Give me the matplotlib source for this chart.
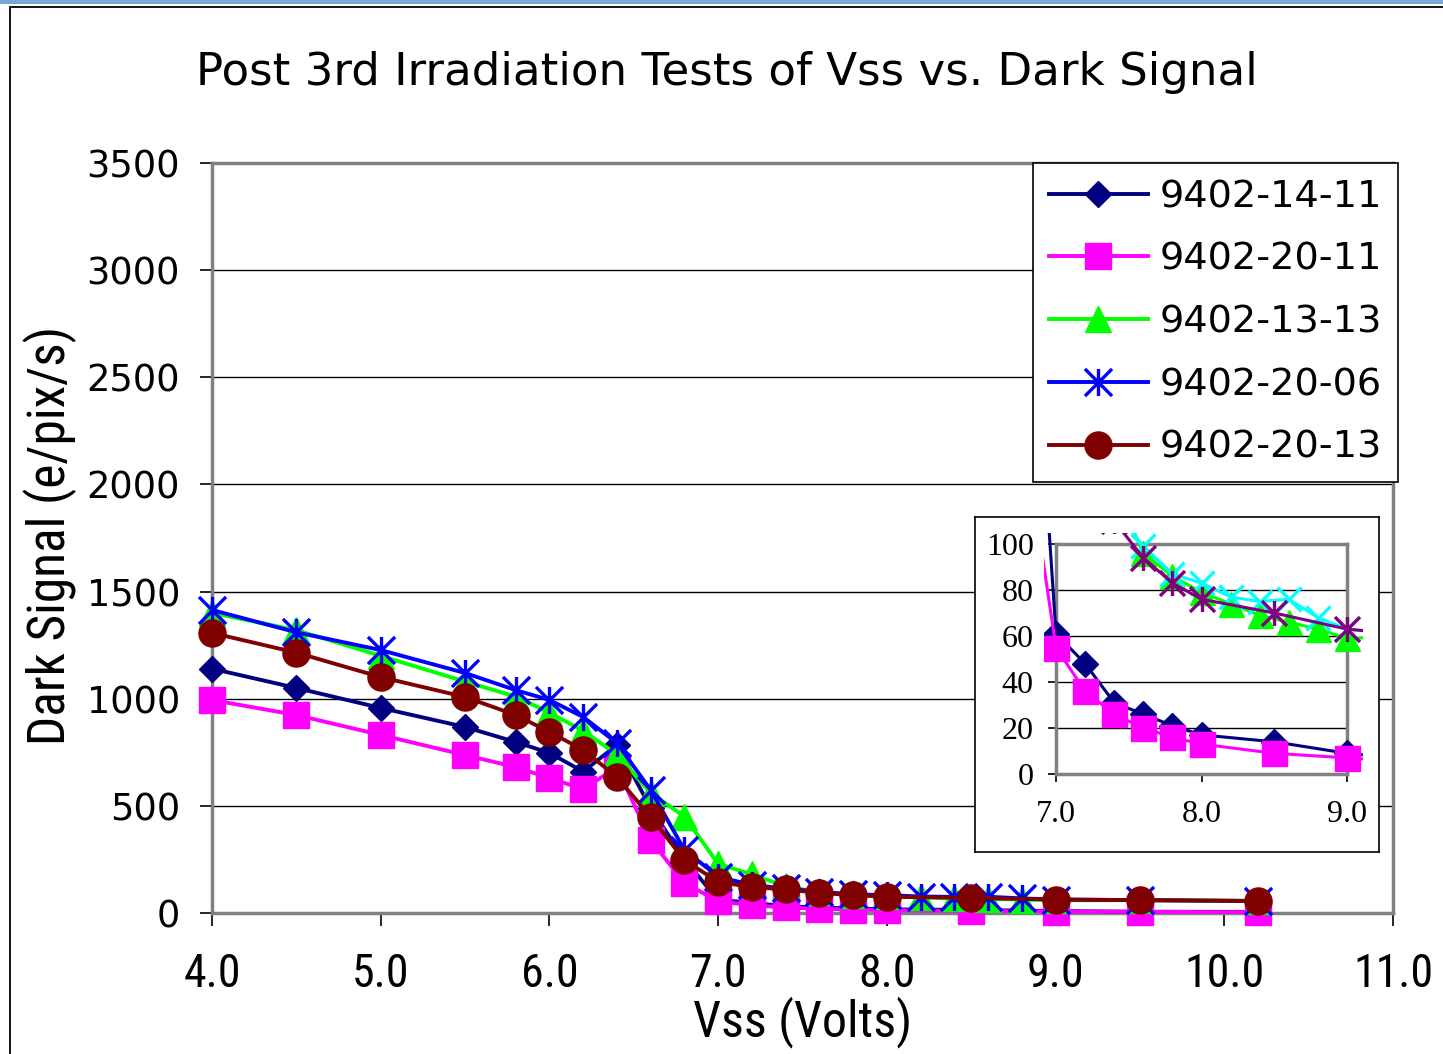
import matplotlib
matplotlib.use("Agg")
import matplotlib.pyplot as plt
from matplotlib.path import Path
from matplotlib.patches import Rectangle
from matplotlib import font_manager as fm

# Vss settings (Volts); two of the devices were also read at 8.2-8.8 V
vss_a = [4.0, 4.5, 5.0, 5.5, 5.8, 6.0, 6.2, 6.4, 6.6, 6.8, 7.0, 7.2, 7.4, 7.6,
         7.8, 8.0, 8.5, 9.0, 9.5, 10.2]
vss_b = [4.0, 4.5, 5.0, 5.5, 5.8, 6.0, 6.2, 6.4, 6.6, 6.8, 7.0, 7.2, 7.4, 7.6,
         7.8, 8.0, 8.2, 8.4, 8.6, 8.8, 9.0, 9.5, 10.2]

# dark signal, e/pix/s
dark_14_11 = [1140, 1050, 957, 868, 798, 747, 660, 784, 490, 250, 61, 48, 31,
              26, 21, 17, 14, 9, 6, 5]
dark_20_11 = [994, 924, 831, 737, 681, 630, 578, 680, 340, 140, 55, 36, 26,
              20, 16, 13, 9, 7, 5, 4]
dark_13_13 = [1400, 1320, 1200, 1080, 1010, 935, 850, 740, 560, 450, 230, 180,
              125, 96, 86, 79, 74, 69, 66, 63, 59, 60, 56]
dark_20_06 = [1414, 1310, 1227, 1120, 1040, 994, 915, 793, 574, 294, 170, 130,
              115, 99, 87, 83, 77, 75, 76, 68, 63, 60, 56]
dark_20_13 = [1307, 1215, 1101, 1008, 924, 845, 761, 635, 448, 247, 145, 121,
              110, 94, 83, 76, 70, 63, 60, 56]

devices = ["9402-14-11", "9402-20-11", "9402-13-13", "9402-20-06", "9402-20-13"]

# narrow face for the axis labels, if one is around
names = {f.name for f in fm.fontManager.ttflist}
narrow = next((n for n in ["Liberation Sans Narrow", "DejaVu Sans Condensed",
                           "Roboto Condensed"] if n in names), "DejaVu Sans")
serif = "Liberation Serif" if "Liberation Serif" in names else "DejaVu Serif"

# six-armed asterisk like the spreadsheet marker
asterisk = Path([(-1, -1), (1, 1), (-1, 1), (1, -1), (0, -1), (0, 1)],
                [Path.MOVETO, Path.LINETO, Path.MOVETO, Path.LINETO,
                 Path.MOVETO, Path.LINETO])

W, H = 1443, 1054
fig = plt.figure(figsize=(W / 100, H / 100), dpi=100)
fig.patch.set_facecolor("white")

# window frame
fig.patches.append(Rectangle((0, 1 - 4 / H), 1, 4 / H, transform=fig.transFigure,
                             facecolor="#7ba7d8", edgecolor="none", zorder=0))
fig.patches.append(Rectangle((10 / W, -0.1), 1.2, 1 - 7 / H + 0.1,
                             transform=fig.transFigure, facecolor="none",
                             edgecolor="black", lw=1.3, zorder=0))

ax = fig.add_axes([212 / W, 1 - 913 / H, (1393 - 212) / W, (913 - 163) / H])
series = [
    (vss_a, dark_14_11, "#000080", "D", 13.5, 1),
    (vss_a, dark_20_11, "#ff00ff", "s", 18.5, 1),
    (vss_b, dark_13_13, "#00ff00", "^", 19, 1),
    (vss_b, dark_20_06, "#0000ff", asterisk, 19.5, 2.4),
    (vss_a, dark_20_13, "#800000", "o", 19.5, 1),
]
for (x, y, c, m, ms, mew), lab in zip(series, devices):
    ax.plot(x, y, color=c, lw=2.8, marker=m, ms=ms, mfc=c, mec=c, mew=mew,
            label=lab, clip_on=False, zorder=3)

ax.set_xlim(4, 11)
ax.set_ylim(0, 3500)
ax.set_xticks(range(4, 12))
ax.set_xticklabels([f"{v:.1f}" for v in range(4, 12)], family=narrow, fontsize=33)
ax.set_yticks(range(0, 3501, 500))
ax.set_yticklabels([str(v) for v in range(0, 3501, 500)], fontsize=26.5)
ax.tick_params(axis="x", direction="out", length=9, width=1.2, pad=19)
ax.tick_params(axis="y", direction="out", length=9, width=1.2, pad=14)
ax.grid(axis="y", color="black", lw=1)
ax.set_axisbelow(True)
for s in ax.spines.values():
    s.set_color("#808080")
    s.set_linewidth(2.5)

leg = ax.legend(loc="upper right", bbox_to_anchor=(1398 / W, 1 - 163 / H),
                bbox_transform=fig.transFigure, borderaxespad=0, fontsize=27.5,
                handlelength=2.6, handletextpad=0.3, labelspacing=0.7,
                borderpad=0.42, fancybox=False, framealpha=1)
leg.get_frame().set_edgecolor("black")
leg.get_frame().set_linewidth(1.2)

fig.text(727 / W, 1 - 73 / H, "Post 3rd Irradiation Tests of Vss vs. Dark Signal",
         ha="center", va="center", fontsize=32.5)
fig.text(50 / W, 1 - 535 / H, "Dark Signal (e/pix/s)", rotation=90,
         ha="center", va="center", fontsize=37, family=narrow)
fig.text(803 / W, 1 - 1022 / H, "Vss (Volts)", ha="center", va="center",
         fontsize=36, family=narrow)

# zoomed view of the 7-9 V tail
box = fig.add_axes([975 / W, 1 - 852 / H, (1379 - 975) / W, (852 - 517) / H],
                   zorder=2)
box.set_xticks([])
box.set_yticks([])
for s in box.spines.values():
    s.set_color("black")
    s.set_linewidth(1.2)

ax_in = fig.add_axes([1056 / W, 1 - 774 / H, (1347 - 1056) / W, (774 - 544) / H],
                     zorder=3)
ax_in.patch.set_alpha(0)
inset_series = [
    (vss_a, dark_14_11, "#000080", "D", 13, 1),
    (vss_a, dark_20_11, "#ff00ff", "s", 18, 1),
    (vss_b, dark_13_13, "#00ff00", "^", 18, 1),
    (vss_b, dark_20_06, "#00ffff", "x", 17, 2.4),
    (vss_a, dark_20_13, "#800080", asterisk, 18, 2.4),
]
for x, y, c, m, ms, mew in inset_series:
    ln, = ax_in.plot(x, y, color=c, lw=2.2, marker=m, ms=ms, mfc=c, mec=c,
                     mew=mew, zorder=3)
    ln.set_clip_path(Rectangle((6.92, -6), 2.19, 111, transform=ax_in.transData))
ax_in.set_xlim(7, 9)
ax_in.set_ylim(0, 100)
ax_in.set_xticks([7, 8, 9])
ax_in.set_xticklabels(["7.0", "8.0", "9.0"], family=serif, fontsize=23)
ax_in.set_yticks(range(0, 101, 20))
ax_in.set_yticklabels([str(v) for v in range(0, 101, 20)], family=serif,
                      fontsize=23)
ax_in.tick_params(axis="x", direction="out", length=6, width=1.2, pad=13)
ax_in.tick_params(axis="y", direction="out", length=6, width=1.2, pad=10)
ax_in.grid(axis="y", color="black", lw=1)
ax_in.set_axisbelow(True)
for s in ax_in.spines.values():
    s.set_color("#808080")
    s.set_linewidth(2.5)

fig.savefig("out.png", dpi=100)
